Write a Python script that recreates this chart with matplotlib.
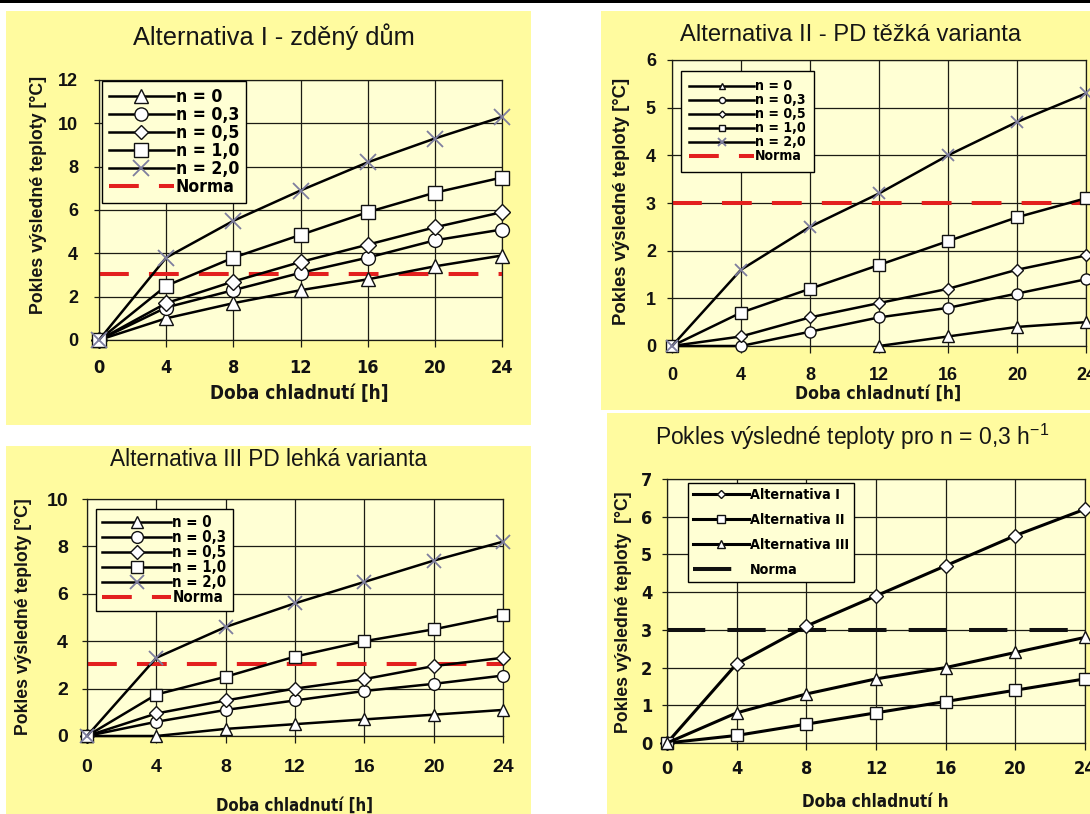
import numpy as np
import matplotlib
matplotlib.use('Agg')
import matplotlib.pyplot as plt
from matplotlib.patches import Rectangle

# ---------------- data ----------------
hours = [0, 4, 8, 12, 16, 20, 24]

# Alternativa I - zděný dům
a1_n0 = [0, 1.0, 1.7, 2.3, 2.8, 3.4, 3.9]
a1_n03 = [0, 1.5, 2.3, 3.1, 3.8, 4.6, 5.1]
a1_n05 = [0, 1.7, 2.7, 3.6, 4.4, 5.2, 5.9]
a1_n10 = [0, 2.5, 3.8, 4.85, 5.9, 6.8, 7.5]
a1_n20 = [0, 3.8, 5.5, 6.9, 8.2, 9.3, 10.3]
a1_norma = 3.05

# Alternativa II - PD těžká varianta
a2_n0 = [None, None, None, 0, 0.2, 0.4, 0.5]
a2_n03 = [0, 0.0, 0.3, 0.6, 0.8, 1.1, 1.4]
a2_n05 = [0, 0.2, 0.6, 0.9, 1.2, 1.6, 1.9]
a2_n10 = [0, 0.7, 1.2, 1.7, 2.2, 2.7, 3.1]
a2_n20 = [0, 1.6, 2.5, 3.2, 4.0, 4.7, 5.3]
a2_norma = 3.0

# Alternativa III PD lehká varianta
a3_n0 = [0, 0.0, 0.3, 0.5, 0.7, 0.9, 1.1]
a3_n03 = [0, 0.6, 1.1, 1.5, 1.9, 2.2, 2.55]
a3_n05 = [0, 0.95, 1.5, 2.0, 2.4, 2.95, 3.3]
a3_n10 = [0, 1.75, 2.5, 3.35, 4.0, 4.5, 5.1]
a3_n20 = [0, 3.3, 4.6, 5.6, 6.5, 7.4, 8.2]
a3_norma = 3.05

# Pokles výsledné teploty pro n = 0,3 h-1
a4_alt1 = [0, 2.1, 3.1, 3.9, 4.7, 5.5, 6.2]
a4_alt2 = [0, 0.2, 0.5, 0.8, 1.1, 1.4, 1.7]
a4_alt3 = [0, 0.8, 1.3, 1.7, 2.0, 2.4, 2.8]
a4_norma = 3.0

n_labels = ['n = 0', 'n = 0,3', 'n = 0,5', 'n = 1,0', 'n = 2,0', 'Norma']
alt_labels = ['Alternativa I', 'Alternativa II', 'Alternativa III', 'Norma']

titles = ['Alternativa I - zděný dům', 'Alternativa II - PD těžká varianta',
          'Alternativa III PD lehká varianta',
          'Pokles výsledné teploty pro n = 0,3 h$^{\\mathregular{-1}}$']
ylabel_txt = 'Pokles výsledné teploty [°C]'
ylabel_txt4 = 'Pokles výsledné teploty  [°C]'
xlabel_txt = 'Doba chladnutí [h]'
xlabel_txt4 = 'Doba chladnutí h'

# ---------------- style ----------------
W, H = 1090, 814
plt.rcParams['mathtext.default'] = 'regular'
fig = plt.figure(figsize=(W / 100, H / 100), dpi=100)
fig.patch.set_facecolor('white')

PANEL = '#FFFB9F'
PLOT = '#FFFFD4'
GRID = '#1c1c14'
XCOL = '#7E7E9E'
NARROW = ['DejaVu Sans']
REG = ['Liberation Sans', 'DejaVu Sans']


def fx(x):
    return x / W


def fy(y):
    return 1 - y / H


def add_rect(x0, y0, x1, y1, color):
    fig.add_artist(Rectangle((fx(x0), fy(y1)), (x1 - x0) / W, (y1 - y0) / H,
                             transform=fig.transFigure, facecolor=color,
                             edgecolor='none', zorder=-10))


def fit(t, target, vertical=False):
    r = fig.canvas.get_renderer()
    bb = t.get_window_extent(r)
    cur = bb.height if vertical else bb.width
    if cur > 0:
        t.set_fontsize(t.get_fontsize() * target / cur)


def make_axes(x0, xr, ytop, y0):
    ax = fig.add_axes([fx(x0), fy(y0), (xr - x0) / W, (y0 - ytop) / H])
    ax.set_facecolor(PLOT)
    for s in ax.spines.values():
        s.set_color(GRID)
        s.set_linewidth(0.9)
    ax.grid(True, color=GRID, lw=0.9)
    ax.set_axisbelow(True)
    return ax


def style_ticks(ax, yticks, xfam, yfam, xsize, ysize, xpad, ypad, xstretch='normal', ystretch='normal'):
    ax.set_xlim(0, 24)
    ax.set_ylim(yticks[0], yticks[-1])
    ax.set_xticks(hours, labels=[str(h) for h in hours], fontsize=xsize,
                  fontweight='bold', family=xfam, fontstretch=xstretch, color='#111111')
    ax.set_yticks(yticks, labels=[str(v) for v in yticks], fontsize=ysize,
                  fontweight='bold', family=yfam, fontstretch=ystretch, color='#111111')
    ax.tick_params(axis='x', direction='out', length=5, width=0.9, color=GRID, pad=xpad)
    ax.tick_params(axis='y', direction='out', length=3.6, width=0.9, color=GRID, pad=ypad)


def plot_series(ax, ys, markers, ms, labels, lw=1.8):
    for y, m, lab in zip(ys, markers, labels):
        y = np.array([np.nan if v is None else v for v in y], dtype=float)
        if m == 'x':
            ax.plot(hours, y, color='black', lw=lw, marker='x', ms=ms * 1.15, mec=XCOL,
                    mew=1.3, clip_on=False, zorder=3, label=lab)
        else:
            ax.plot(hours, y, color='black', lw=lw, marker=m,
                    ms=ms * (0.8 if m == 'D' else 1.0), mfc='white', mec='#111111',
                    mew=1.0, clip_on=False, zorder=3, label=lab)


def add_legend(ax, lx, ly, fs, hl, ls, bp, msc, fam=NARROW, stretch='condensed'):
    leg = ax.legend(loc='upper left', bbox_to_anchor=(fx(lx), fy(ly)),
                    bbox_transform=fig.transFigure, borderaxespad=0, frameon=True,
                    fancybox=False, edgecolor='black', facecolor=PLOT, framealpha=1,
                    prop=dict(family=fam, weight='bold', size=fs, stretch=stretch),
                    handlelength=hl, handletextpad=0.1, labelspacing=ls, borderpad=bp,
                    markerscale=msc, numpoints=1)
    leg.get_frame().set_linewidth(1.0)
    return leg


def text_px(x, y, s, target, fam, weight='bold', vertical=False, size=12, stretch='normal'):
    t = fig.text(fx(x), fy(y), s, ha='center', va='center', family=fam,
                 fontweight=weight, rotation=90 if vertical else 0, size=size,
                 fontstretch=stretch, color='#151515')
    fit(t, target, vertical)
    return t


# top black rule
add_rect(0, 0, W, 3, 'black')
# panel backgrounds
add_rect(6, 11, 531, 425, PANEL)
add_rect(601, 11, W, 410, PANEL)
add_rect(6, 446, 531, H, PANEL)
add_rect(607, 413, W, H, PANEL)

n_markers = ['^', 'o', 'D', 's', 'x']
DASH = (7.4, 5)

# ---------- panel 1 ----------
ax1 = make_axes(99, 502, 80, 340)
plot_series(ax1, [a1_n0, a1_n03, a1_n05, a1_n10, a1_n20], n_markers, 10, n_labels[:5])
ax1.axhline(a1_norma, color='#E3201E', lw=2.9, dashes=DASH, zorder=2, label=n_labels[5])
style_ticks(ax1, list(range(0, 13, 2)), NARROW, REG, 13, 13, 8.5, 11.5, xstretch='condensed')
add_legend(ax1, 102, 81, 12.6, 3.7, 0.0, 0.4, 0.95)
text_px(274, 37, titles[0], 282, REG, weight='normal')
text_px(39, 195, ylabel_txt, 236, REG, vertical=True)
text_px(299, 393, xlabel_txt, 178, NARROW, stretch='condensed')

# ---------- panel 2 ----------
ax2 = make_axes(672, 1086, 60, 346)
plot_series(ax2, [a2_n0, a2_n03, a2_n05, a2_n10, a2_n20], n_markers, 8, n_labels[:5])
ax2.axhline(a2_norma, color='#E3201E', lw=2.9, dashes=DASH, zorder=2, label=n_labels[5])
style_ticks(ax2, list(range(0, 7)), REG, REG, 13, 13, 10, 8)
add_legend(ax2, 681, 71, 10.1, 4.6, 0.0, 0.6, 0.55)
text_px(851, 35, titles[1], 342, REG, weight='normal')
text_px(621, 201, ylabel_txt, 247, REG, vertical=True)
text_px(878, 394, xlabel_txt, 165, NARROW, stretch='condensed')

# ---------- panel 3 ----------
ax3 = make_axes(87, 503, 499, 736)
plot_series(ax3, [a3_n0, a3_n03, a3_n05, a3_n10, a3_n20], n_markers, 8.5, n_labels[:5])
ax3.axhline(a3_norma, color='#E3201E', lw=2.9, dashes=DASH, zorder=2, label=n_labels[5])
style_ticks(ax3, list(range(0, 11, 2)), REG, REG, 14, 14, 11.5, 10)
add_legend(ax3, 96, 509, 10.8, 4.6, 0.0, 0.4, 1.0)
text_px(268, 460, titles[2], 318, REG, weight='normal')
text_px(24, 617, ylabel_txt, 235, REG, vertical=True)
text_px(294, 806, xlabel_txt, 157, NARROW, stretch='condensed')

# ---------- panel 4 ----------
ax4 = make_axes(667, 1085, 479, 743)
plot_series(ax4, [a4_alt1, a4_alt2, a4_alt3], ['D', 's', '^'], 8.5, alt_labels[:3], lw=2.2)
ax4.axhline(a4_norma, color='#111111', lw=2.9, dashes=(9.5, 5.5), zorder=2, label=alt_labels[3])
style_ticks(ax4, list(range(0, 8)), NARROW, NARROW, 13, 13, 7, 7, xstretch='condensed', ystretch='condensed')
add_legend(ax4, 688, 483, 10.3, 3.9, 0.78, 0.35, 0.6)
text_px(852, 437, titles[3], 394, REG, weight='normal')
text_px(624, 612, ylabel_txt4, 240, REG, vertical=True)
text_px(875, 802, xlabel_txt4, 146, NARROW, stretch='condensed')

fig.savefig('out.png', dpi=100, facecolor='white')
